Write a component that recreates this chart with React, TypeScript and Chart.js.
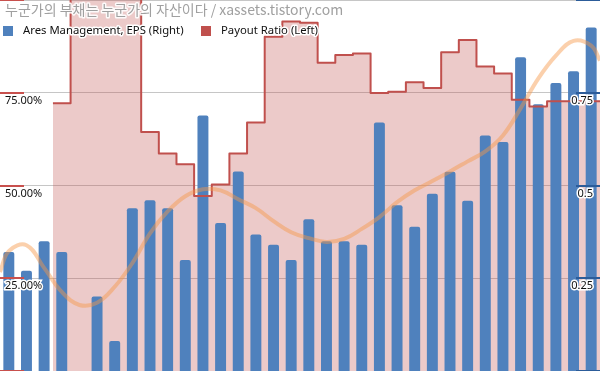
import React, { useEffect, useRef } from 'react';
import { Chart, registerables } from 'chart.js';

Chart.register(...registerables);

const titleText = '누군가의 부채는 누군가의 자산이다 / xassets.tistory.com';
const epsLabel = 'Ares Management, EPS (Right)';
const payoutLabel = 'Payout Ratio (Left)';

const quarters = [
  '2016Q1', '2016Q2', '2016Q3', '2016Q4', '2017Q1', '2017Q2', '2017Q3', '2017Q4',
  '2018Q1', '2018Q2', '2018Q3', '2018Q4', '2019Q1', '2019Q2', '2019Q3', '2019Q4',
  '2020Q1', '2020Q2', '2020Q3', '2020Q4', '2021Q1', '2021Q2', '2021Q3', '2021Q4',
  '2022Q1', '2022Q2', '2022Q3', '2022Q4', '2023Q1', '2023Q2', '2023Q3', '2023Q4',
  '2024Q1', '2024Q2',
];

const eps = [
  0.321, 0.270, 0.350, 0.321, null, 0.201, 0.081, 0.439,
  0.460, 0.439, 0.299, 0.689, 0.399, 0.538, 0.368, 0.340,
  0.299, 0.409, 0.350, 0.350, 0.340, 0.670, 0.447, 0.389,
  0.478, 0.537, 0.459, 0.635, 0.617, 0.846, 0.719, 0.776,
  0.808, 0.926,
];

const payoutRatio = [
  null, null, null, 72.2, 130, 150, 145, 120,
  64.4, 58.6, 55.7, 47.2, 50.3, 58.6, 67.0, 90.1,
  94.2, 93.9, 83.1, 85.2, 85.6, 74.9, 75.3, 77.8,
  76.3, 85.9, 89.2, 82.1, 80.2, 73.1, 71.3, 72.7,
  72.7, 72.7,
];

// EPS trend curve: value at the left edge, at each quarter's centre, and at the right edge
const epsTrend = [
  0.267,
  0.323, 0.339, 0.278, 0.213, 0.178, 0.184, 0.227, 0.291,
  0.371, 0.430, 0.471, 0.490, 0.487, 0.463, 0.439, 0.404,
  0.374, 0.358, 0.348, 0.356, 0.383, 0.415, 0.455, 0.487,
  0.512, 0.538, 0.565, 0.592, 0.635, 0.708, 0.788, 0.850,
  0.890, 0.877,
  0.837,
];

const leftTicks = [25, 50, 75];
const rightTicks = [0.25, 0.5, 0.75];

const BLUE = '#4F81BD';
const RED = '#C0504D';

const flatAxis = (s: any) => {
  s.width = 0;
  s.paddingTop = 0;
  s.paddingBottom = 0;
  s.paddingLeft = 0;
  s.paddingRight = 0;
};

export default function App() {
  const ref = useRef<HTMLCanvasElement | null>(null);

  useEffect(() => {
    document.body.style.margin = '0';
    const canvas = ref.current;
    if (!canvas) return;

    const n = quarters.length;
    const payoutPoints = payoutRatio.map((v, i) => ({ x: i, y: v }));
    payoutPoints.push({ x: n, y: payoutRatio[n - 1] });
    const trendPos = [0, ...quarters.map((_, i) => i + 0.5), n];
    const trendPoints = epsTrend.map((v, i) => ({ x: trendPos[i], y: v }));

    const overlay = {
      id: 'overlay',
      afterDatasetsDraw(chart: any) {
        const ctx = chart.ctx;
        const yL = chart.scales.yL;
        const yR = chart.scales.yR;
        const area = chart.chartArea;
        ctx.save();
        ctx.lineWidth = 2;
        ctx.strokeStyle = '#C8504D';
        [0, ...leftTicks, 100].forEach((v) => {
          const y = Math.round(yL.getPixelForValue(v));
          ctx.beginPath();
          ctx.moveTo(area.left, y);
          ctx.lineTo(area.left + 24, y);
          ctx.stroke();
        });
        ctx.strokeStyle = '#2C5C99';
        [0, ...rightTicks, 1].forEach((v) => {
          const y = Math.round(yR.getPixelForValue(v));
          ctx.beginPath();
          ctx.moveTo(area.right - 24, y);
          ctx.lineTo(area.right, y);
          ctx.stroke();
        });
        ctx.restore();
      },
      afterDraw(chart: any) {
        const ctx = chart.ctx;
        ctx.save();
        ctx.textBaseline = 'middle';
        ctx.textAlign = 'left';
        ctx.lineJoin = 'round';
        // title
        ctx.font = '14px "Noto Sans CJK KR"';
        ctx.lineWidth = 3;
        ctx.strokeStyle = 'rgba(255,255,255,0.9)';
        ctx.strokeText(titleText, 5, 10);
        ctx.fillStyle = '#A0A0A0';
        ctx.fillText(titleText, 5, 10);
        // legend
        ctx.font = '11.3px "Noto Sans"';
        const items = [
          { label: epsLabel, color: BLUE, x: 3 },
          { label: payoutLabel, color: RED, x: 201 },
        ];
        items.forEach((it) => {
          ctx.fillStyle = it.color;
          ctx.fillRect(it.x, 26, 10, 10);
          ctx.strokeStyle = '#fff';
          ctx.lineWidth = 3;
          ctx.strokeText(it.label, it.x + 20, 31);
          ctx.fillStyle = '#111';
          ctx.fillText(it.label, it.x + 20, 31);
        });
        ctx.restore();
      },
    };

    const chart = new Chart(canvas, {
      type: 'bar',
      data: {
        labels: quarters,
        datasets: [
          {
            type: 'line',
            label: 'EPS trend',
            data: trendPoints as any,
            xAxisID: 'x2',
            yAxisID: 'yR',
            borderColor: 'rgba(247,150,70,0.45)',
            borderWidth: 4,
            pointRadius: 0,
            tension: 0.4,
            fill: false,
            order: 0,
          },
          {
            type: 'line',
            label: payoutLabel,
            data: payoutPoints as any,
            xAxisID: 'x2',
            yAxisID: 'yL',
            borderColor: RED,
            backgroundColor: 'rgba(192,80,77,0.3)',
            borderWidth: 2,
            borderJoinStyle: 'round',
            pointRadius: 0,
            stepped: 'before',
            fill: 'origin',
            spanGaps: false,
            order: 1,
          },
          {
            type: 'bar',
            label: epsLabel,
            data: eps,
            xAxisID: 'x',
            yAxisID: 'yR',
            backgroundColor: BLUE,
            borderRadius: 2,
            grouped: false,
            categoryPercentage: 1,
            barPercentage: 0.62,
            order: 2,
          },
        ],
      },
      options: {
        animation: false,
        responsive: false,
        devicePixelRatio: 1,
        layout: { padding: 0 },
        plugins: {
          legend: { display: false },
          tooltip: { enabled: false },
          filler: { drawTime: 'beforeDatasetsDraw' },
        },
        scales: {
          x: { type: 'category', display: false, offset: true, afterFit: flatAxis },
          x2: { type: 'linear', display: false, offset: false, min: 0, max: quarters.length, afterFit: flatAxis },
          yL: {
            type: 'linear',
            position: 'left',
            min: 0,
            max: 100,
            afterFit: flatAxis,
            border: { display: false },
            grid: { color: '#C6C6C6', drawTicks: false, lineWidth: 1 },
            ticks: {
              stepSize: 25,
              mirror: true,
              padding: 5,
              labelOffset: 8,
              z: 1,
              color: '#111',
              font: { family: '"Noto Sans"', size: 11 },
              textStrokeColor: '#fff',
              textStrokeWidth: 3,
              callback: (v: any) => (leftTicks.includes(Number(v)) ? Number(v).toFixed(2) + '%' : ''),
            },
          },
          yR: {
            type: 'linear',
            position: 'right',
            min: 0,
            max: 1,
            afterFit: flatAxis,
            border: { display: false },
            grid: { display: false, drawTicks: false },
            ticks: {
              stepSize: 0.25,
              mirror: true,
              padding: -7,
              labelOffset: 8,
              z: 1,
              color: '#111',
              font: { family: '"Noto Sans"', size: 11 },
              textStrokeColor: '#fff',
              textStrokeWidth: 3,
              callback: (v: any) => (rightTicks.includes(Number(v)) ? String(Number(v)) : ''),
            },
          },
        },
      },
      plugins: [overlay],
    });

    return () => chart.destroy();
  }, []);

  return (
    <div style={{ position: 'fixed', left: 0, top: 0, width: 600, height: 371 }}>
      <canvas ref={ref} width={600} height={371} style={{ display: 'block' }} />
    </div>
  );
}
